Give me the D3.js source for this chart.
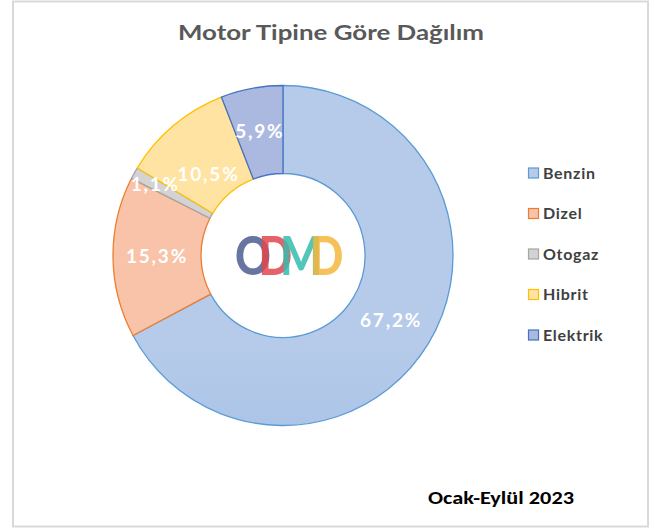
<!DOCTYPE html>
<html>
<head>
<meta charset="utf-8">
<script src="https://cdn.jsdelivr.net/npm/d3@7"></script>
<style>
  body { margin: 0; background: #fff; }
  svg { display: block; }
</style>
</head>
<body>
<div id="chart"></div>
<script>
const categories = ["Benzin", "Dizel", "Otogaz", "Hibrit", "Elektrik"];
const shares = [67.2, 15.3, 1.1, 10.5, 5.9];
const labels = ["67,2%", "15,3%", "1,1%", "10,5%", "5,9%"];
const title = "Motor Tipine Göre Dağılım";
const period = "Ocak-Eylül 2023";

const W = 658, H = 530;
const cx = 283, cy = 255.5, outerR = 170, innerR = 82;

// office-like fills: light at top, darker at bottom
const fillTop = ["#b6cbe9", "#f8c3a8", "#d3d3d3", "#ffe3a2", "#abb9e1"];
const fillBottom = ["#8db2e2", "#f3a47f", "#b5b5b5", "#ffd467", "#7e94d2"];
const strokes = ["#5b9bd5", "#ed7d31", "#a5a5a5", "#ffc000", "#4472c4"];
// label radius per slice (excel nudged the small ones)
const labelR = [126, 126, 146, 110, 126];
const labelShift = [0, 0, 0, -2.5, 0]; // degrees

const svg = d3.select("#chart").append("svg")
  .attr("width", W).attr("height", H);

svg.append("rect")
  .attr("x", 13).attr("y", 1.5).attr("width", 635).attr("height", 525)
  .attr("fill", "#fff").attr("stroke", "#d9d9d9").attr("stroke-width", 2);

const defs = svg.append("defs");
categories.forEach((c, i) => {
  const g = defs.append("linearGradient")
    .attr("id", "grad" + i)
    .attr("gradientUnits", "userSpaceOnUse")
    .attr("x1", 0).attr("y1", cy - outerR).attr("x2", 0).attr("y2", cy + outerR);
  g.append("stop").attr("offset", "0%").attr("stop-color", fillTop[i]);
  g.append("stop").attr("offset", "100%").attr("stop-color", fillBottom[i]);
});

svg.append("text")
  .attr("x", 331).attr("y", 40)
  .attr("text-anchor", "middle")
  .attr("font-family", "'Century Gothic', 'URW Gothic', Lato, sans-serif")
  .attr("font-weight", "bold").attr("font-size", 21)
  .attr("fill", "#595959")
  .attr("textLength", 306).attr("lengthAdjust", "spacingAndGlyphs")
  .text(title);

const pie = d3.pie().sort(null).value(d => d)(shares);
const arc = d3.arc().innerRadius(innerR).outerRadius(outerR);

const root = svg.append("g").attr("transform", `translate(${cx},${cy})`);

root.selectAll("path.slice")
  .data(pie)
  .join("path")
  .attr("class", "slice")
  .attr("d", arc)
  .attr("fill", (d, i) => `url(#grad${i})`)
  .attr("stroke", (d, i) => strokes[i])
  .attr("stroke-width", 1.3)
  .attr("stroke-linejoin", "round");

// percent labels
root.selectAll("text.lbl")
  .data(pie)
  .join("text")
  .attr("class", "lbl")
  .each(function(d, i) {
    const a = (d.startAngle + d.endAngle) / 2 + labelShift[i] * Math.PI / 180;
    d3.select(this)
      .attr("x", labelR[i] * Math.sin(a))
      .attr("y", -labelR[i] * Math.cos(a));
  })
  .attr("text-anchor", "middle")
  .attr("dy", "0.35em")
  .attr("font-family", "'Century Gothic', 'URW Gothic', Lato, sans-serif")
  .attr("font-weight", "bold").attr("font-size", 19)
  .attr("letter-spacing", 1.8)
  .attr("fill", "#fff")
  .text((d, i) => labels[i]);

// ODMD logo in the hole
const logoLetters = ["O", "D", "M", "D"];
const logoColors = ["#4e5d8f", "#e2464f", "#35bcae", "#f6b63c"];
const logo = root.append("text")
  .attr("transform", "translate(0,19) scale(0.82,1)")
  .attr("text-anchor", "middle")
  .attr("font-family", "Lato, sans-serif")
  .attr("font-weight", 900).attr("font-size", 54)
  .attr("letter-spacing", -15);
logo.selectAll("tspan")
  .data(logoLetters)
  .join("tspan")
  .attr("fill", (d, i) => logoColors[i])
  .attr("fill-opacity", 0.85)
  .text(d => d);

// legend
const legend = svg.append("g").attr("transform", "translate(528,173)");
const rows = legend.selectAll("g")
  .data(categories)
  .join("g")
  .attr("transform", (d, i) => `translate(0,${i * 40.5})`);
rows.append("rect")
  .attr("x", 0.5).attr("y", -5).attr("width", 10).attr("height", 10)
  .attr("fill", (d, i) => fillTop[i])
  .attr("stroke", (d, i) => strokes[i]).attr("stroke-width", 1.2);
rows.append("text")
  .attr("x", 15).attr("y", 0).attr("dy", "0.36em")
  .attr("font-family", "'Century Gothic', 'URW Gothic', Lato, sans-serif")
  .attr("font-weight", "bold").attr("font-size", 16)
  .attr("letter-spacing", 0.7)
  .attr("fill", "#404040")
  .text(d => d);

svg.append("text")
  .attr("x", 428).attr("y", 504)
  .attr("font-family", "Calibri, Carlito, Lato, sans-serif")
  .attr("font-weight", "bold").attr("font-size", 17)
  .attr("fill", "#000")
  .attr("textLength", 146).attr("lengthAdjust", "spacingAndGlyphs")
  .text(period);
</script>
</body>
</html>
